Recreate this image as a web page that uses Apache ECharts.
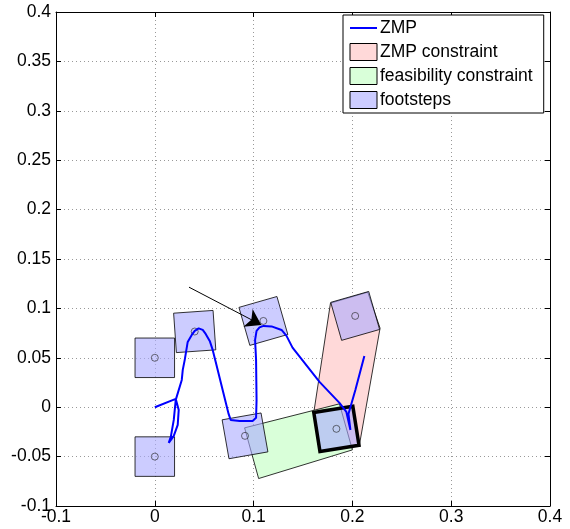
<!DOCTYPE html>
<html>
<head>
<meta charset="utf-8">
<script src="https://cdn.jsdelivr.net/npm/echarts@6/dist/echarts.min.js"></script>
<style>
  html, body { margin: 0; padding: 0; background: #fff; }
  #chart { width: 570px; height: 529px; }
</style>
</head>
<body>
<div id="chart"></div>
<script>
// ZMP trajectory
const zmpX = [0, 0.0212, 0.0242, 0.0232, 0.0192, 0.0141, 0.0162, 0.0192, 0.0212, 0.0273, 0.0283, 0.0303,
  0.0333, 0.0374, 0.0404, 0.0444, 0.0485, 0.0515, 0.0556, 0.0586, 0.0616, 0.0747, 0.0768, 0.0859, 0.099,
  0.1025, 0.103, 0.1025, 0.1015, 0.103, 0.106, 0.1101, 0.1182, 0.1283, 0.1333, 0.1394, 0.1667, 0.1869,
  0.1939, 0.198, 0.196, 0.203, 0.2121];
const zmpY = [0, 0.0084, -0.0027, -0.0179, -0.029, -0.0361, -0.0301, -0.0129, 0.0074, 0.0276, 0.0378, 0.0479,
  0.0661, 0.0732, 0.0772, 0.0798, 0.0782, 0.0742, 0.0671, 0.058, 0.0459, -0.0068, -0.0129, -0.0139, -0.0139,
  -0.0108, 0.0074, 0.0479, 0.0681, 0.0772, 0.0808, 0.0823, 0.0818, 0.0782, 0.0722, 0.0603, 0.0256, 0.0044,
  -0.0048, -0.023, -0.0068, 0.0175, 0.0519];

// footsteps: centre, rotation (deg); the current one is drawn thick
const stepX = [0, 0, 0.0404, 0.0913, 0.1099, 0.2028, 0.1838];
const stepY = [0.05, -0.05, 0.0766, -0.029, 0.0873, 0.0924, -0.0219];
const stepAngle = [0, 0, 4, 10, 16, 16, 9];
const currentStep = 6;
const stepSize = 0.04;

// ZMP constraint (pink) and feasibility constraint (green) polygons
const zmpConsX = [0.1778, 0.2155, 0.228, 0.2071, 0.1677, 0.1609];
const zmpConsY = [0.1053, 0.1164, 0.08, -0.0382, -0.046, -0.0055];
const feasX = [0.0909, 0.1869, 0.2, 0.1051];
const feasY = [-0.0209, 0.0034, -0.0432, -0.0722];

// arrow
const arrowFrom = [0.0346, 0.1215];
const arrowTo = [0.1078, 0.0833];

const font = '"Liberation Sans", Arial, sans-serif';
const pinkFill = '#ffd9d9';
const greenFill = '#d9ffd9';
const stepFill = 'rgba(170,170,255,0.6)';

function polygonRender(xs, ys, fill) {
  return function (params, api) {
    return {
      type: 'polygon',
      shape: {points: xs.map((x, i) => api.coord([x, ys[i]]))},
      style: {fill: fill, stroke: '#000', lineWidth: 0.8}
    };
  };
}

const chart = echarts.init(document.getElementById('chart'));
const option = {
  animation: false,
  grid: {left: 56, right: 20, top: 12, bottom: 23},
  legend: {
    left: 343, top: 15,
    orient: 'vertical',
    itemWidth: 27, itemHeight: 17, itemGap: 6,
    padding: [4, 11, 4, 6],
    backgroundColor: '#fff',
    borderColor: '#000', borderWidth: 1, borderRadius: 0,
    textStyle: {fontFamily: font, fontSize: 17.5, color: '#000', padding: [0, 0, 0, -2]},
    selectedMode: false,
    data: [
      {name: 'ZMP', itemStyle: {opacity: 0}},
      {name: 'ZMP constraint', icon: 'rect', itemStyle: {color: pinkFill, borderColor: '#000', borderWidth: 1}},
      {name: 'feasibility constraint', icon: 'rect', itemStyle: {color: greenFill, borderColor: '#000', borderWidth: 1}},
      {name: 'footsteps', icon: 'rect', itemStyle: {color: '#ccccff', borderColor: '#000', borderWidth: 1}}
    ]
  },
  xAxis: [{
    type: 'value', min: -0.1, max: 0.4, interval: 0.1,
    axisLine: {onZero: false, lineStyle: {color: '#000'}},
    axisTick: {inside: true, length: 5, lineStyle: {color: '#000'}},
    axisLabel: {color: '#000', fontFamily: font, fontSize: 17.5, margin: 2},
    splitLine: {lineStyle: {color: '#999', type: [1, 3]}}
  }, {
    type: 'value', position: 'top', min: -0.1, max: 0.4, interval: 0.1,
    axisLine: {show: true, onZero: false, lineStyle: {color: '#000'}},
    axisTick: {inside: true, length: 5, lineStyle: {color: '#000'}},
    axisLabel: {show: false}, splitLine: {show: false}
  }],
  yAxis: [{
    type: 'value', min: -0.1, max: 0.4, interval: 0.05,
    axisLine: {show: true, onZero: false, lineStyle: {color: '#000'}},
    axisTick: {show: true, inside: true, length: 5, lineStyle: {color: '#000'}},
    axisLabel: {color: '#000', fontFamily: font, fontSize: 17.5, margin: 5},
    splitLine: {lineStyle: {color: '#999', type: [1, 3]}}
  }, {
    type: 'value', position: 'right', min: -0.1, max: 0.4, interval: 0.05,
    axisLine: {show: true, onZero: false, lineStyle: {color: '#000'}},
    axisTick: {show: true, inside: true, length: 5, lineStyle: {color: '#000'}},
    axisLabel: {show: false}, splitLine: {show: false}
  }],
  series: [
    {
      name: 'ZMP constraint', type: 'custom',
      itemStyle: {color: pinkFill},
      data: [[zmpConsX[0], zmpConsY[0]]],
      renderItem: polygonRender(zmpConsX, zmpConsY, pinkFill)
    },
    {
      name: 'feasibility constraint', type: 'custom',
      itemStyle: {color: greenFill},
      data: [[feasX[0], feasY[0]]],
      renderItem: polygonRender(feasX, feasY, greenFill)
    },
    {
      name: 'footsteps', type: 'custom',
      itemStyle: {color: '#ccccff'},
      encode: {x: 0, y: 1},
      data: stepX.map((x, i) => [x, stepY[i], stepAngle[i], i === currentStep ? 1 : 0]),
      renderItem: function (params, api) {
        const cx = api.value(0), cy = api.value(1);
        const a = api.value(2) * Math.PI / 180;
        const h = stepSize / 2;
        const c = Math.cos(a), s = Math.sin(a);
        const pts = [[-h, -h], [h, -h], [h, h], [-h, h]].map(([u, v]) =>
          api.coord([cx + u * c - v * s, cy + u * s + v * c]));
        const thick = api.value(3) === 1;
        return {
          type: 'polygon',
          shape: {points: pts},
          style: {fill: stepFill, stroke: '#000', lineWidth: thick ? 3.5 : 0.8}
        };
      }
    },
    {
      name: 'ZMP', type: 'line',
      data: zmpX.map((x, i) => [x, zmpY[i]]),
      symbol: 'none', smooth: false,
      lineStyle: {color: '#0000ff', width: 2},
      itemStyle: {color: '#0000ff'}
    },
    {
      name: 'centres', type: 'scatter',
      data: stepX.map((x, i) => [x, stepY[i]]),
      symbol: 'circle', symbolSize: 7,
      itemStyle: {color: 'rgba(0,0,0,0)', borderColor: '#222', borderWidth: 0.8}
    },
    {
      name: 'arrow', type: 'lines', coordinateSystem: 'cartesian2d',
      symbol: ['none', 'arrow'], symbolSize: 15,
      lineStyle: {color: '#000', width: 1, opacity: 1},
      data: [{coords: [arrowFrom, arrowTo]}]
    }
  ]
};
chart.setOption(option);
</script>
</body>
</html>
